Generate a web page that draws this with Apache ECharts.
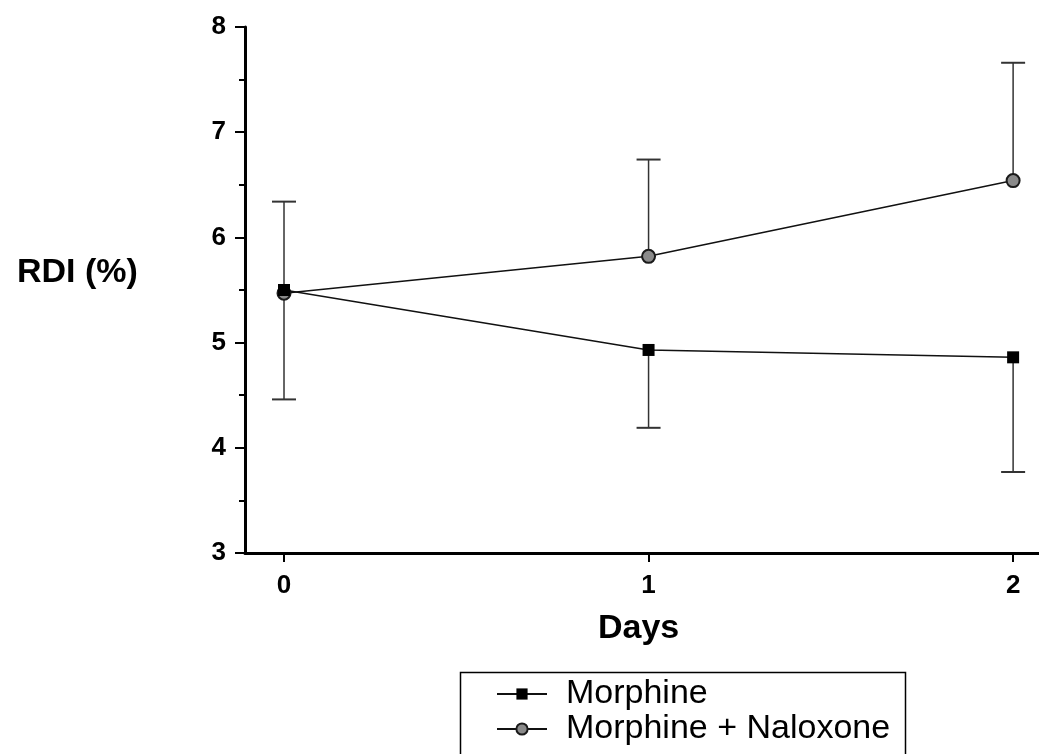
<!DOCTYPE html>
<html>
<head>
<meta charset="utf-8">
<script src="https://cdn.jsdelivr.net/npm/echarts@6/dist/echarts.min.js"></script>
<style>html,body{margin:0;padding:0;background:#fff;}#c{width:1039px;height:754px;}</style>
</head>
<body>
<div id="c"></div>
<script>
const days = [0, 1, 2];
const morphine = [5.50, 4.93, 4.86];
const morphineLow = [4.46, 4.19, 3.77];
const naloxone = [5.47, 5.82, 6.54];
const naloxoneHigh = [6.34, 6.74, 7.66];
const seriesNames = ['Morphine', 'Morphine + Naloxone'];
const xTitle = 'Days';
const yTitle = 'RDI (%)';

const font = '"Liberation Sans", Arial, sans-serif';

function errData(vals, ends) {
  return days.map((d, i) => [d, vals[i], ends[i]]);
}
function errRender(params, api) {
  const p0 = api.coord([api.value(0), api.value(1)]);
  const p1 = api.coord([api.value(0), api.value(2)]);
  return {
    type: 'group',
    children: [
      { type: 'line', shape: { x1: p0[0], y1: p0[1], x2: p1[0], y2: p1[1] }, style: { stroke: '#333', lineWidth: 1.5 } },
      { type: 'line', shape: { x1: p1[0] - 12, y1: p1[1], x2: p1[0] + 12, y2: p1[1] }, style: { stroke: '#333', lineWidth: 2 } }
    ]
  };
}

const chart = echarts.init(document.getElementById('c'), null, { renderer: 'canvas' });
chart.setOption({
  animation: false,
  backgroundColor: '#fff',
  grid: { left: 245, right: 0, top: 27, bottom: 201, containLabel: false },
  xAxis: {
    type: 'value', min: -0.107, max: 2.071,
    axisLine: { show: true, onZero: false, lineStyle: { color: '#000', width: 3 } },
    axisTick: { show: true, customValues: days, length: 9, lineStyle: { color: '#000', width: 2 } },
    axisLabel: { customValues: days, fontFamily: font, fontWeight: 'bold', fontSize: 26, color: '#000', margin: 20 },
    splitLine: { show: false }
  },
  yAxis: {
    type: 'value', min: 3, max: 8, interval: 1,
    axisLine: { show: true, onZero: false, lineStyle: { color: '#000', width: 3 } },
    axisTick: { show: true, length: 10, lineStyle: { color: '#000', width: 2 } },
    minorTick: { show: true, splitNumber: 2, length: 6, lineStyle: { color: '#000', width: 2 } },
    axisLabel: { fontFamily: font, fontWeight: 'bold', fontSize: 26, color: '#000', margin: 19 },
    splitLine: { show: false }
  },
  legend: {
    orient: 'vertical', left: 458, top: 670,
    data: seriesNames,
    borderWidth: 0,
    padding: [7, 8, 0, 38],
    itemWidth: 50, itemHeight: 14, itemGap: 1,
    textStyle: { fontFamily: font, fontSize: 34, color: '#000', padding: [0, 0, 0, 14] }
  },
  graphic: [
    { type: 'rect', left: 458, top: 670, shape: { width: 445, height: 110 }, style: { fill: 'none', stroke: '#000', lineWidth: 1.5 }, silent: true },
    { type: 'text', left: 17, top: 256, style: { text: yTitle, font: 'bold 34px ' + font, fill: '#000' } },
    { type: 'text', left: 598, top: 612, style: { text: xTitle, font: 'bold 34px ' + font, fill: '#000' } }
  ],
  series: [
    { type: 'custom', name: 'errN', renderItem: errRender, data: errData(naloxone, naloxoneHigh), encode: { x: 0, y: [1, 2] }, z: 1, silent: true },
    { type: 'custom', name: 'errM', renderItem: errRender, data: errData(morphine, morphineLow), encode: { x: 0, y: [1, 2] }, z: 1, silent: true },
    {
      type: 'line', name: seriesNames[1], data: days.map((d, i) => [d, naloxone[i]]),
      symbol: 'circle', symbolSize: 13, z: 3,
      lineStyle: { color: '#111', width: 1.5 },
      itemStyle: { color: '#8a8a8a', borderColor: '#1a1a1a', borderWidth: 2 }
    },
    {
      type: 'line', name: seriesNames[0], data: days.map((d, i) => [d, morphine[i]]),
      symbol: 'rect', symbolSize: 12, z: 4,
      lineStyle: { color: '#111', width: 1.5 },
      itemStyle: { color: '#000', borderColor: '#000', borderWidth: 0 }
    }
  ]
});
</script>
</body>
</html>
